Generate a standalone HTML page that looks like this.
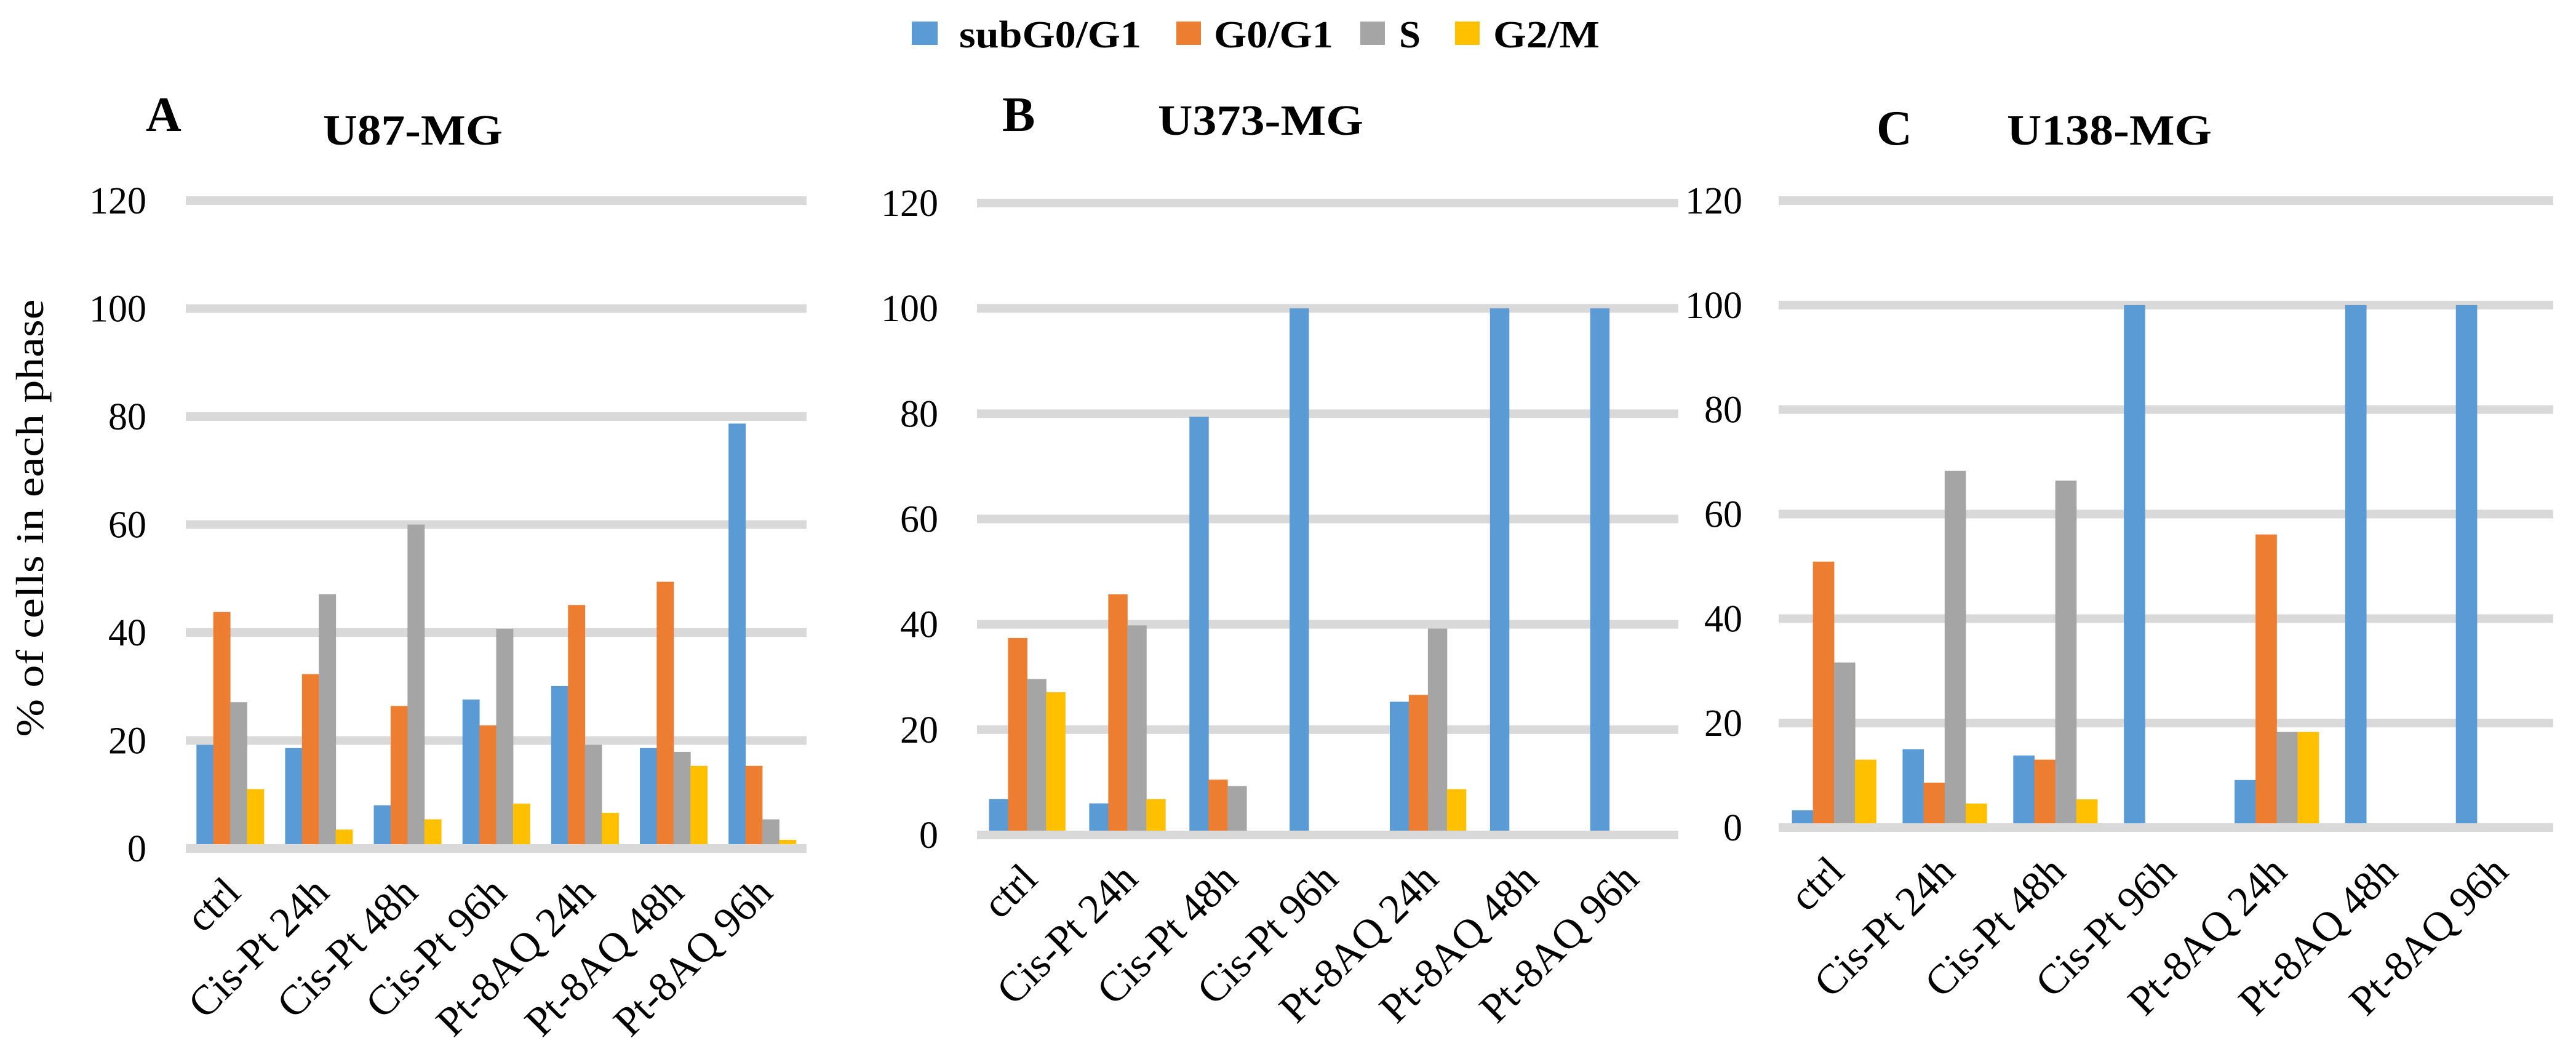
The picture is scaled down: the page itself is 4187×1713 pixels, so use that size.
<!DOCTYPE html>
<html><head><meta charset="utf-8"><style>
html,body{margin:0;padding:0;background:#fff;}
svg{display:block;}
text{font-family:"Liberation Serif",serif;fill:#000;}
</style></head><body>
<svg id="fig" width="4187" height="1713" viewBox="0 0 4187 1713">
  <g>
    <g><rect x="1482" y="35" width="42" height="38" fill="#5B9BD5"/><text x="1559" y="77" font-size="62" font-weight="bold" textLength="296" lengthAdjust="spacingAndGlyphs">subG0/G1</text></g>
    <g><rect x="1912" y="35" width="40" height="38" fill="#ED7D31"/><text x="1973" y="77" font-size="62" font-weight="bold" textLength="194" lengthAdjust="spacingAndGlyphs">G0/G1</text></g>
    <g><rect x="2211" y="35" width="40" height="38" fill="#A5A5A5"/><text x="2274" y="77" font-size="62" font-weight="bold" textLength="35" lengthAdjust="spacingAndGlyphs">S</text></g>
    <g><rect x="2365" y="35" width="40" height="38" fill="#FFC000"/><text x="2427" y="77" font-size="62" font-weight="bold" textLength="173" lengthAdjust="spacingAndGlyphs">G2/M</text></g>
  </g>
  <text transform="translate(70,842) rotate(-90)" text-anchor="middle" font-size="64" textLength="711" lengthAdjust="spacingAndGlyphs">% of cells in each phase</text>
</svg>
<script>
const categories = ["ctrl","Cis-Pt 24h","Cis-Pt 48h","Cis-Pt 96h","Pt-8AQ 24h","Pt-8AQ 48h","Pt-8AQ 96h"];
const seriesNames = ["subG0/G1","G0/G1","S","G2/M"];
const yTicks = [0,20,40,60,80,100,120];
const aSub = [19.2,18.6,8.0,27.6,30.1,18.6,78.7];
const aG0 = [43.8,32.3,26.4,22.8,45.1,49.4,15.3];
const aS = [27.1,47.1,60.0,40.7,19.2,17.9,5.4];
const aG2 = [11.0,3.5,5.4,8.3,6.6,15.3,1.6];
const bSub = [6.8,6.0,79.4,100,25.3,100,100];
const bG0 = [37.4,45.7,10.5,0,26.6,0,0];
const bS = [29.6,39.8,9.3,0,39.2,0,0];
const bG2 = [27.1,6.8,0,0,8.7,0,0];
const cSub = [3.3,15.0,13.8,100,9.1,100,100];
const cG0 = [50.9,8.6,13.0,0,56.1,0,0];
const cS = [31.6,68.3,66.4,0,18.3,0,0];
const cG2 = [13.0,4.6,5.4,0,18.3,0,0];
const colors = ["#5B9BD5","#ED7D31","#A5A5A5","#FFC000"];
const NS = "http://www.w3.org/2000/svg";
const svg = document.getElementById("fig");
function mk(tag, attrs, parent){const e=document.createElementNS(NS,tag);for(const k in attrs)e.setAttribute(k,attrs[k]);parent.appendChild(e);return e;}
function txt(s, attrs, parent){const e=mk("text",attrs,parent);e.textContent=s;return e;}
const panels = [
  {id:"a",letter:"A",title:"U87-MG",tw:292,x0:302,x1:1311,yZero:1379,yTop:326,series:[aSub,aG0,aS,aG2],lx:237,ly:213,tx:525,ty:235,lblOff:64},
  {id:"b",letter:"B",title:"U373-MG",tw:334,x0:1588,x1:2728,yZero:1357,yTop:330,series:[bSub,bG0,bS,bG2],lx:1629,ly:213,tx:1882,ty:219,lblOff:63},
  {id:"c",letter:"C",title:"U138-MG",tw:333,x0:2891,x1:4150,yZero:1345,yTop:326,series:[cSub,cG0,cS,cG2],lx:3050,ly:235,tx:3262,ty:235,lblOff:59}
];
panels.forEach(p=>{
  const g = mk("g",{},svg);
  
  
  const yScale = v => p.yZero - (v/120)*(p.yZero-p.yTop);
  const cw = (p.x1-p.x0)/categories.length;
  const off = cw*0.12, bw = cw*0.19;
  const pl = txt(p.letter,{x:p.lx,y:p.ly,"font-size":80,"font-weight":"bold"},g);
  
  
  const pt = txt(p.title,{x:p.tx,y:p.ty,"font-size":70,"font-weight":"bold",textLength:p.tw,lengthAdjust:"spacingAndGlyphs"},g);
  
  
  yTicks.forEach(t=>{
    const y = yScale(t);
    const gl = mk("rect",{x:p.x0,y:y-7,width:p.x1-p.x0,height:14,fill:"#D9D9D9"},g);
    
    
    const tl = txt(String(t),{x:p.x0-p.lblOff,y:y+21,"font-size":62,"text-anchor":"end"},g);
    
    
  });
  p.series.forEach((vals,si)=>{
    vals.forEach((v,ci)=>{
      if(v<=0) return;
      const x = p.x0 + ci*cw + off + si*bw;
      const y = yScale(v);
      const r = mk("rect",{x:x,y:y,width:bw+0.5,height:p.yZero-7-y,fill:colors[si]},g);
      
      
    });
  });
  categories.forEach((c,ci)=>{
    const cx = p.x0 + ci*cw + cw/2 + 20;
    const cy = p.yZero + 75;
    const xl = txt(c,{x:cx,y:cy,"font-size":68,"text-anchor":"end",transform:"rotate(-45 "+cx+" "+cy+")"},g);
    
    
  });
});
</script>
</body></html>
